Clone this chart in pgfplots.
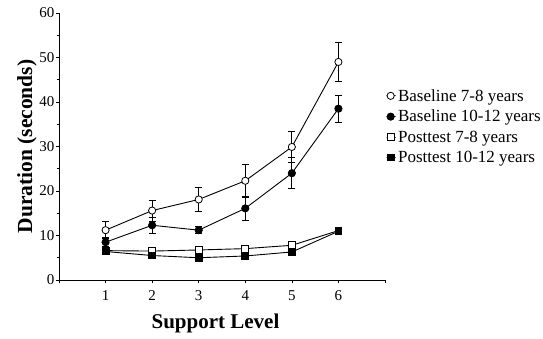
\documentclass[border=0pt]{standalone}
\usepackage{pgfplots}
\pgfplotsset{compat=1.18}
\usepackage{fontspec}
\setmainfont{Liberation Serif}
\begin{document}
\begin{tikzpicture}
\useasboundingbox (0pt,0pt) rectangle (543pt,338pt);
\begin{axis}[
  at={(59pt,58pt)}, anchor=origin,
  scale only axis, width=326pt, height=267pt,
  xmin=0, xmax=7, ymin=0, ymax=60,
  axis lines=left, axis line style={-, line width=0.8pt},
  xtick={0,1,2,3,4,5,6,7}, xticklabels={,1,2,3,4,5,6,},
  ytick={0,10,20,30,40,50,60}, minor y tick num=1,
  tick align=outside, major tick length=3pt, minor tick length=2pt,
  tick style={black, line width=0.6pt},
  /pgf/number format/assume math mode=true,
  ticklabel style={font=\fontsize{15}{17}\selectfont},
  yticklabel style={xshift=2pt},
  xticklabel style={yshift=-4pt},
  xlabel={\textbf{Support Level}},
  ylabel={\textbf{Duration (seconds)}},
  xlabel style={font=\fontsize{21}{24}\selectfont, at={(axis description cs:0.48,-0.162)}, anchor=center},
  ylabel style={font=\fontsize{21.5}{24}\selectfont, at={(axis description cs:-0.098,0.5)}, anchor=center},
  error bars/error bar style={line width=0.8pt, black},
  error bars/error mark options={rotate=90, mark size=3.5pt, line width=0.8pt, black},
  legend style={at={(rel axis cs:1,1)}, anchor=north west, xshift=1pt, yshift=-74pt,
    draw=none, fill=none, font=\fontsize{17}{19}\selectfont, row sep=3.5pt,
    inner sep=0pt, cells={anchor=west}},
  legend image code/.code={\path (0pt,0pt) rectangle (9pt,0pt); \draw[#1, only marks, mark size=2.8pt] plot coordinates {(4pt,0pt)};},
  legend cell align=left,
  clip=false,
]
\addplot[black, line width=0.9pt, mark=*, mark options={fill=white, draw=black, mark size=3.6pt, line width=0.8pt, solid},
  error bars/.cd, y dir=both, y explicit]
  coordinates {
  (1,11.2) +- (0,1.9)
  (2,15.6) +- (0,2.4)
  (3,18.1) +- (0,2.6)
  (4,22.3) +- (0,3.7)
  (5,29.9) +- (0,3.4)
  (6,49.0) +- (0,4.3)
  };
\addlegendentry{Baseline 7-8 years}
\addplot[black, line width=0.9pt, mark=*, mark options={fill=black, draw=black, mark size=3.6pt, solid},
  error bars/.cd, y dir=both, y explicit]
  coordinates {
  (1,8.5) +- (0,1.0)
  (2,12.3) +- (0,1.8)
  (3,11.2) +- (0,0.8)
  (4,16.1) +- (0,2.6)
  (5,24.0) +- (0,3.5)
  (6,38.5) +- (0,3.0)
  };
\addlegendentry{Baseline 10-12 years}
\addplot[black, line width=0.9pt, mark=square*, mark options={fill=white, draw=black, mark size=3.4pt, line width=0.8pt, solid}]
  coordinates {
  (1,6.6) (2,6.5) (3,6.75) (4,7.05) (5,7.8) (6,11.1)
  };
\addlegendentry{Posttest 7-8 years}
\addplot[black, line width=0.9pt, mark=square*, mark options={fill=black, draw=black, mark size=3.4pt, solid}]
  coordinates {
  (1,6.4) (2,5.5) (3,5.0) (4,5.4) (5,6.3) (6,10.95)
  };
\addlegendentry{Posttest 10-12 years}
\end{axis}
\end{tikzpicture}
\end{document}
